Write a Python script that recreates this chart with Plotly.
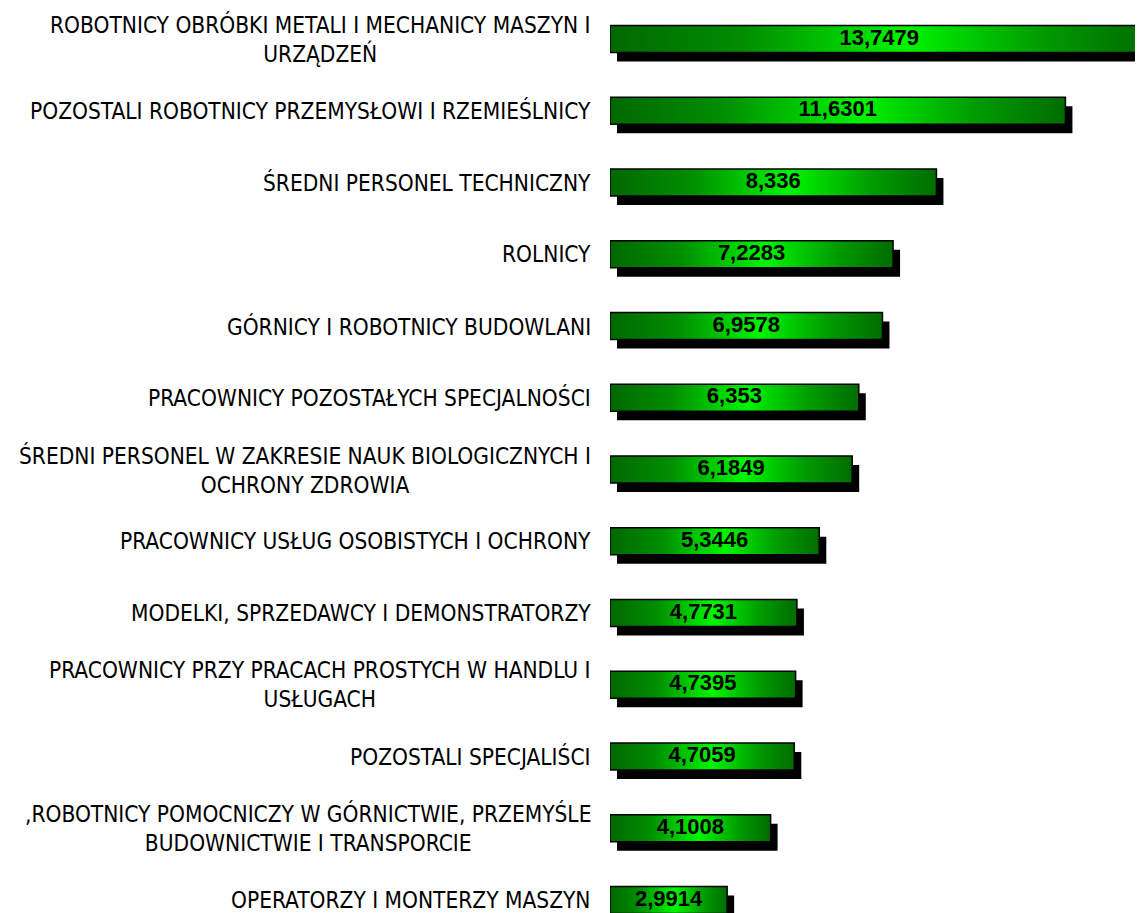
import plotly.graph_objects as go

categories = [
    "ROBOTNICY OBRÓBKI METALI I MECHANICY MASZYN I<br>URZĄDZEŃ",
    "POZOSTALI ROBOTNICY PRZEMYSŁOWI I RZEMIEŚLNICY",
    "ŚREDNI PERSONEL TECHNICZNY",
    "ROLNICY",
    "GÓRNICY I ROBOTNICY BUDOWLANI",
    "PRACOWNICY POZOSTAŁYCH SPECJALNOŚCI",
    "ŚREDNI PERSONEL W ZAKRESIE NAUK BIOLOGICZNYCH I<br>OCHRONY ZDROWIA",
    "PRACOWNICY USŁUG OSOBISTYCH I OCHRONY",
    "MODELKI, SPRZEDAWCY I DEMONSTRATORZY",
    "PRACOWNICY PRZY PRACACH PROSTYCH W HANDLU I<br>USŁUGACH",
    "POZOSTALI SPECJALIŚCI",
    ",ROBOTNICY POMOCNICZY W GÓRNICTWIE, PRZEMYŚLE<br>BUDOWNICTWIE I TRANSPORCIE",
    "OPERATORZY I MONTERZY MASZYN",
]
values = [13.7479, 11.6301, 8.336, 7.2283, 6.9578, 6.353, 6.1849,
          5.3446, 4.7731, 4.7395, 4.7059, 4.1008, 2.9914]
value_labels = ["13,7479", "11,6301", "8,336", "7,2283", "6,9578", "6,353", "6,1849",
                "5,3446", "4,7731", "4,7395", "4,7059", "4,1008", "2,9914"]

W, H = 1143, 913
L = 602
px_per_x = 39.16
XMAX = (W - L) / px_per_x
slot_px = 71.75
first_center_px = 31
y_top = -first_center_px / slot_px
y_bot = (H - first_center_px) / slot_px
half = 13.5 / slot_px
sh_dx = 7 / px_per_x
sh_dy = 9 / slot_px

fig = go.Figure()

# shadows
for i, v in enumerate(values):
    x0, x1 = sh_dx, v + sh_dx
    y0, y1 = i - half + sh_dy, i + half + sh_dy
    fig.add_trace(go.Scatter(
        x=[x0, x1, x1, x0, x0], y=[y0, y0, y1, y1, y0],
        mode="lines", fill="toself", fillcolor="black",
        line=dict(color="black", width=0), hoverinfo="skip", showlegend=False))

# gradient bars
for i, v in enumerate(values):
    y0, y1 = i - half, i + half
    fig.add_trace(go.Scatter(
        x=[0, v, v, 0, 0], y=[y0, y0, y1, y1, y0],
        mode="lines", fill="toself",
        fillgradient=dict(type="horizontal",
                          colorscale=[[0, "#006800"], [0.25, "#008e00"], [0.55, "#00f500"],
                                      [0.8, "#009c00"], [1, "#006c00"]]),
        line=dict(color="black", width=1.5), hoverinfo="skip", showlegend=False))

# value labels
fig.add_trace(go.Scatter(
    x=[v / 2 for v in values], y=list(range(len(values))),
    mode="text", text=value_labels, textposition="middle center",
    textfont=dict(family="Liberation Sans", size=22, color="black", weight="bold"),
    hoverinfo="skip", showlegend=False))

for i, c in enumerate(categories):
    fig.add_annotation(
        x=0, xref="paper", y=i, yref="y", xanchor="right", yanchor="middle",
        xshift=-17, text=c, showarrow=False, align="center",
        font=dict(family="DejaVu Sans Condensed", size=22.5, color="black"))

fig.update_layout(
    width=W, height=H,
    margin=dict(l=L, r=0, t=0, b=0),
    paper_bgcolor="white", plot_bgcolor="white",
    xaxis=dict(range=[0, XMAX], visible=False),
    yaxis=dict(range=[y_bot, y_top], visible=False),
    showlegend=False,
)

fig.write_html("out.html")
